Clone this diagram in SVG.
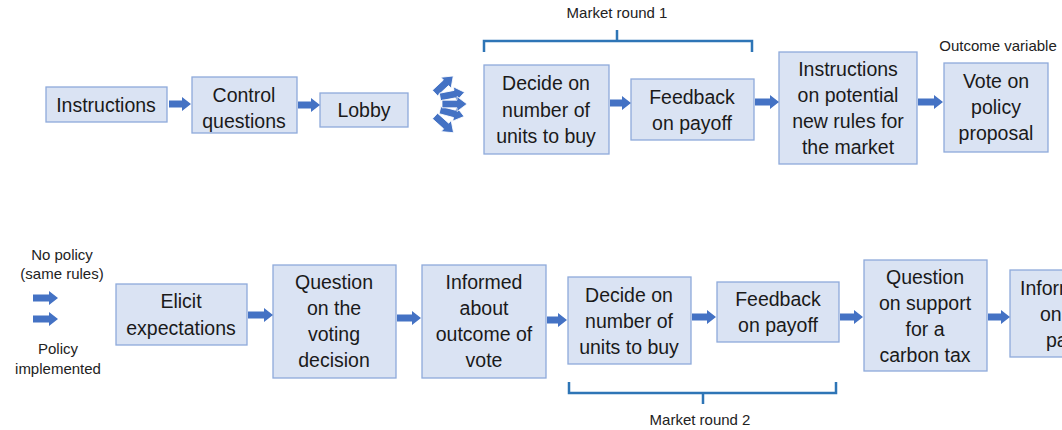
<svg xmlns="http://www.w3.org/2000/svg" xmlns:xlink="http://www.w3.org/1999/xlink" width="1062" height="430" viewBox="0 0 1062 430">
<style>
.box{fill:#dae3f3;stroke:#8eaadb;stroke-width:1.3}
.t{font-family:"Liberation Sans",Arial,sans-serif;font-size:19.5px;fill:#1a1a1a;text-anchor:middle}
.s{font-family:"Liberation Sans",Arial,sans-serif;font-size:15px;fill:#222;text-anchor:middle}
.arr{fill:#4472c4}
.fan{fill:#4472c4;stroke:#ffffff;stroke-width:0.8}
.br{fill:none;stroke:#2e75b6;stroke-width:2.5}
</style>
<defs>
<path id="a25" d="M0,-3.8 H15 V-7.5 L25,0 L15,7.5 V3.8 H0 Z"/>
</defs>
<rect width="1062" height="430" fill="#ffffff"/>

<g id="labels">
<text class="s" x="617" y="18">Market round 1</text>
<text class="s" x="998" y="51">Outcome variable</text>
<text class="s" x="62" y="260">No policy</text>
<text class="s" x="62" y="279">(same rules)</text>
<text class="s" x="58" y="354">Policy</text>
<text class="s" x="58" y="374">implemented</text>
<text class="s" x="700" y="425">Market round 2</text>
</g>

<g id="brackets">
<path class="br" d="M484,52 V41 H752 V52 M617,41 V30"/>
<path class="br" d="M569,382 V393 H836 V382 M703,393 V404"/>
</g>

<g id="n-instructions"><rect class="box" x="46" y="87" width="121" height="35"/>
<text class="t" x="106" y="112">Instructions</text></g>
<g id="n-control"><rect class="box" x="192" y="77" width="105" height="56"/>
<text class="t" x="244"><tspan x="244" y="102">Control</tspan><tspan x="244" y="128">questions</tspan></text></g>
<g id="n-lobby"><rect class="box" x="320" y="93" width="88" height="34"/>
<text class="t" x="364" y="117">Lobby</text></g>
<g id="n-decide1"><rect class="box" x="484" y="65" width="125" height="89"/>
<text class="t"><tspan x="546" y="90">Decide on</tspan><tspan x="546" y="117">number of</tspan><tspan x="546" y="143">units to buy</tspan></text></g>
<g id="n-feedback1"><rect class="box" x="631" y="79" width="123" height="61"/>
<text class="t"><tspan x="692" y="104">Feedback</tspan><tspan x="692" y="130">on payoff</tspan></text></g>
<g id="n-instr-rules"><rect class="box" x="779" y="52" width="138" height="112"/>
<text class="t"><tspan x="848" y="76">Instructions</tspan><tspan x="848" y="102">on potential</tspan><tspan x="848" y="128">new rules for</tspan><tspan x="848" y="154">the market</tspan></text></g>
<g id="n-vote"><rect class="box" x="944" y="63" width="104" height="89"/>
<text class="t"><tspan x="996" y="88">Vote on</tspan><tspan x="996" y="114">policy</tspan><tspan x="996" y="140">proposal</tspan></text></g>

<g id="n-elicit"><rect class="box" x="116" y="284" width="131" height="61"/>
<text class="t"><tspan x="181" y="308">Elicit</tspan><tspan x="181" y="335">expectations</tspan></text></g>
<g id="n-question-vote"><rect class="box" x="273" y="265" width="123" height="113"/>
<text class="t"><tspan x="334" y="289">Question</tspan><tspan x="334" y="315">on the</tspan><tspan x="334" y="341">voting</tspan><tspan x="334" y="367">decision</tspan></text></g>
<g id="n-informed-vote"><rect class="box" x="422" y="265" width="124" height="113"/>
<text class="t"><tspan x="484" y="289">Informed</tspan><tspan x="484" y="315">about</tspan><tspan x="484" y="341">outcome of</tspan><tspan x="484" y="367">vote</tspan></text></g>
<g id="n-decide2"><rect class="box" x="568" y="277" width="123" height="87"/>
<text class="t"><tspan x="629" y="302">Decide on</tspan><tspan x="629" y="328">number of</tspan><tspan x="629" y="354">units to buy</tspan></text></g>
<g id="n-feedback2"><rect class="box" x="717" y="282" width="122" height="60"/>
<text class="t"><tspan x="778" y="306">Feedback</tspan><tspan x="778" y="332">on payoff</tspan></text></g>
<g id="n-question-tax"><rect class="box" x="864" y="260" width="123" height="111"/>
<text class="t"><tspan x="925" y="284">Question</tspan><tspan x="925" y="310">on support</tspan><tspan x="925" y="336">for a</tspan><tspan x="925" y="362">carbon tax</tspan></text></g>
<g id="n-informed-payoff"><rect class="box" x="1010" y="270" width="123" height="87"/>
<text class="t" style="text-anchor:start"><tspan x="1020" y="295">Informed</tspan><tspan x="1040" y="321">on</tspan><tspan x="1046" y="347">payoff</tspan></text></g>

<g id="connectors">
<path class="arr" d="M169,100.5 H182 V97 L191,104 L182,111 V107.5 H169 Z"/>
<path class="arr" d="M298,101.5 H311 V98 L320,105 L311,112 V108.5 H298 Z"/>
<path class="arr" d="M610,99.5 H622 V96 L631,103 L622,110 V106.5 H610 Z"/>
<path class="arr" d="M755,98.5 H770 V95 L779,102 L770,109 V105.5 H755 Z"/>
<path class="arr" d="M918,98.5 H934 V95 L943,102 L934,109 V105.5 H918 Z"/>
<use class="fan" xlink:href="#a25" href="#a25" transform="translate(435,93) rotate(-43)"/>
<use class="fan" xlink:href="#a25" href="#a25" transform="translate(435,116) rotate(42)"/>
<use class="fan" xlink:href="#a25" href="#a25" transform="translate(440,97) rotate(-11)"/>
<use class="fan" xlink:href="#a25" href="#a25" transform="translate(440,110) rotate(15)"/>
<use class="fan" xlink:href="#a25" href="#a25" transform="translate(442,104) rotate(0)"/>
<path class="arr" d="M33,294.5 H49 V291 L58,298 L49,305 V301.5 H33 Z"/>
<path class="arr" d="M33,315.5 H49 V312 L58,319 L49,326 V322.5 H33 Z"/>
<path class="arr" d="M248,311.5 H264 V308 L273,315 L264,322 V318.5 H248 Z"/>
<path class="arr" d="M397,314.5 H412 V311 L421,318 L412,325 V321.5 H397 Z"/>
<path class="arr" d="M547,316.5 H558 V313 L567,320 L558,327 V323.5 H547 Z"/>
<path class="arr" d="M692,313.5 H707 V310 L716,317 L707,324 V320.5 H692 Z"/>
<path class="arr" d="M840,313.5 H854 V310 L863,317 L854,324 V320.5 H840 Z"/>
<path class="arr" d="M988,313.5 H1001 V310 L1010,317 L1001,324 V320.5 H988 Z"/>
</g>
</svg>
